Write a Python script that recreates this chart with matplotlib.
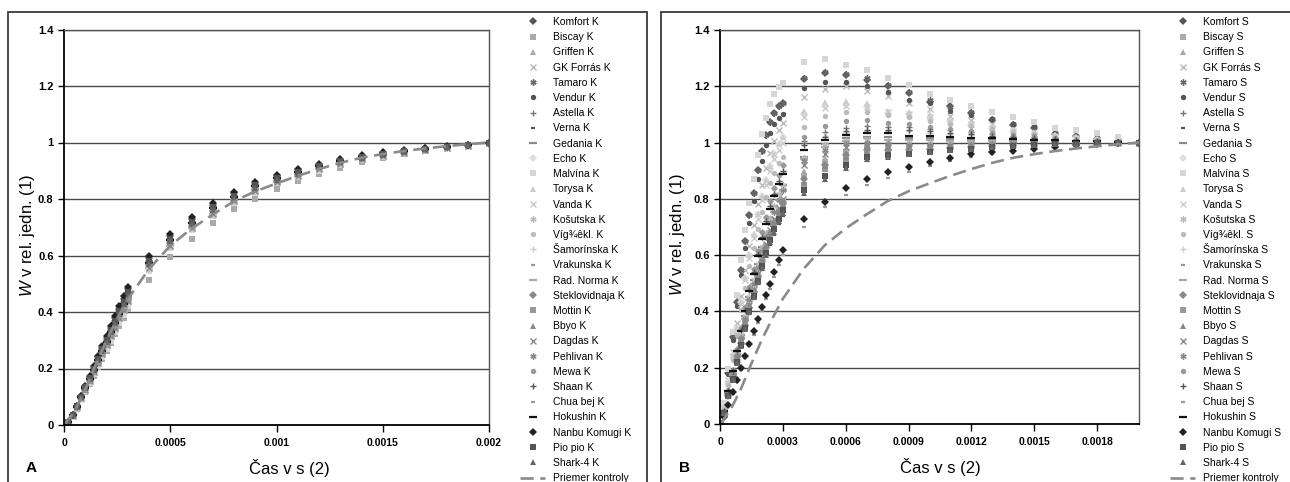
import numpy as np
import matplotlib.pyplot as plt
from matplotlib.patches import Rectangle

plt.rcParams['font.family'] = ['Liberation Sans', 'DejaVu Sans']
plt.rcParams['mathtext.fontset'] = 'custom'
plt.rcParams['mathtext.it'] = 'Liberation Sans:italic'
plt.rcParams['mathtext.rm'] = 'Liberation Sans'

VARIETIES = ["Komfort", "Biscay", "Griffen", "GK Forrás", "Tamaro", "Vendur",
             "Astella", "Verna", "Gedania", "Echo", "Malvína", "Torysa", "Vanda",
             "Košutska", "Víg¾êkl.", "Šamorínska", "Vrakunska", "Rad. Norma",
             "Steklovidnaja", "Mottin", "Bbyo", "Dagdas", "Pehlivan", "Mewa",
             "Shaan", "Chua bej", "Hokushin", "Nanbu Komugi", "Pio pio", "Shark-4"]

# time in units of 1e-5 s: dense up to 0.0003 s, then every 0.0001 s
T_DENSE = [0, 2, 4, 6, 8, 10, 12, 14, 16, 18, 20, 22, 24, 26, 28, 30]
T_TAIL = [40, 50, 60, 70, 80, 90, 100, 110, 120, 130, 140, 150, 160, 170, 180, 190, 200]

# control average (W in 1/1000)
CONTROL_T = [0, 5, 10, 15, 20, 25, 30, 40, 50, 60, 70, 80, 90, 100,
             110, 120, 130, 140, 150, 160, 170, 180, 190, 200]
CONTROL_W = [0, 50, 125, 215, 300, 375, 445, 552, 635, 695, 745, 792, 827, 855,
             882, 906, 928, 946, 959, 970, 979, 987, 994, 1000]

# ---- A (K) : rise part, W in 1/1000
A490 = [0, 11, 37, 69, 104, 139, 173, 209, 244, 279, 314, 349, 385, 420, 455, 490]
A480 = [0, 11, 36, 68, 102, 136, 170, 204, 239, 274, 308, 342, 377, 411, 445, 480]
A470 = [0, 10, 36, 66, 100, 133, 166, 200, 234, 268, 301, 335, 369, 403, 436, 470]
A460 = [0, 10, 35, 65, 98, 130, 163, 196, 229, 262, 295, 328, 361, 394, 427, 460]
A450 = [0, 10, 34, 63, 96, 127, 159, 192, 224, 257, 288, 321, 353, 386, 418, 450]
A440 = [0, 10, 33, 62, 94, 125, 156, 187, 219, 251, 282, 314, 345, 377, 408, 440]
A430 = [0, 9, 33, 61, 92, 122, 152, 183, 214, 245, 276, 307, 338, 369, 399, 430]
A420 = [0, 9, 32, 59, 89, 119, 149, 179, 209, 239, 269, 299, 330, 360, 390, 420]
A410 = [0, 9, 31, 58, 87, 116, 145, 175, 204, 234, 263, 292, 322, 351, 380, 410]

# ---- A (K) : tail part 0.0004 .. 0.002 s
A_T = [600, 675, 735, 785, 825, 860, 885, 905, 925, 940, 955, 965, 972, 980, 986, 992, 1000]
A_T2 = [590, 668, 728, 778, 820, 854, 880, 902, 922, 938, 952, 963, 971, 979, 985, 991, 1000]
A_U = [580, 660, 720, 770, 812, 850, 876, 897, 918, 935, 950, 960, 970, 978, 985, 991, 1000]
A_U2 = [575, 655, 715, 767, 808, 846, 873, 894, 916, 933, 948, 959, 969, 977, 984, 990, 1000]
A_M = [570, 650, 710, 760, 802, 840, 868, 890, 912, 930, 945, 957, 967, 976, 983, 990, 1000]
A_M2 = [565, 645, 705, 756, 798, 836, 865, 888, 910, 928, 943, 956, 966, 975, 983, 990, 1000]
A_L = [555, 635, 697, 748, 792, 830, 860, 883, 906, 925, 940, 953, 964, 974, 982, 989, 1000]
A_L2 = [545, 625, 690, 740, 785, 823, 855, 878, 900, 920, 937, 950, 962, 973, 981, 989, 1000]
A_B = [515, 595, 660, 715, 765, 800, 835, 865, 890, 910, 930, 945, 958, 970, 980, 988, 1000]

A_RISE = [A480, A410, A450, A440, A470, A470, A450, A460, A440, A430,
          A420, A440, A450, A440, A450, A430, A460, A450, A470, A440,
          A450, A440, A460, A450, A470, A450, A460, A490, A470, A460]
A_TAILS = [A_T2, A_B, A_M, A_L, A_U, A_U2, A_M2, A_M, A_L, A_L,
           A_L2, A_M2, A_M, A_L, A_M2, A_L, A_M, A_M2, A_U, A_M2,
           A_M, A_L, A_U2, A_M, A_U, A_M2, A_U2, A_T, A_U, A_M]

# ---- B (S) : rise part
B1210 = [0, 73, 194, 327, 460, 581, 690, 787, 871, 956, 1029, 1089, 1137, 1174, 1198, 1210]
B1140 = [0, 68, 182, 308, 433, 547, 650, 741, 821, 901, 969, 1026, 1072, 1106, 1129, 1140]
B1100 = [0, 66, 176, 297, 418, 528, 627, 715, 792, 869, 935, 990, 1034, 1067, 1089, 1100]
B1070 = [0, 59, 155, 257, 358, 455, 546, 631, 706, 781, 851, 910, 963, 1006, 1043, 1070]
B1020 = [0, 56, 148, 245, 342, 434, 520, 602, 673, 745, 811, 867, 918, 959, 995, 1020]
B1000 = [0, 55, 145, 240, 335, 425, 510, 590, 660, 730, 795, 850, 900, 940, 975, 1000]
B950 = [0, 52, 138, 228, 318, 404, 485, 561, 627, 694, 755, 808, 855, 893, 926, 950]
B920 = [0, 46, 120, 193, 267, 340, 414, 488, 552, 616, 681, 736, 791, 837, 883, 920]
B900 = [0, 45, 117, 189, 261, 333, 405, 477, 540, 603, 666, 720, 774, 819, 864, 900]
B890 = [0, 45, 116, 187, 258, 329, 401, 472, 534, 596, 659, 712, 765, 810, 854, 890]
B850 = [0, 43, 111, 179, 247, 315, 383, 451, 510, 570, 629, 680, 731, 774, 816, 850]
B830 = [0, 42, 108, 174, 241, 307, 374, 440, 498, 556, 614, 664, 714, 755, 797, 830]
B800 = [0, 40, 104, 168, 232, 296, 360, 424, 480, 536, 592, 640, 688, 728, 768, 800]
B790 = [0, 40, 103, 166, 229, 292, 356, 419, 474, 529, 585, 632, 679, 719, 758, 790]
B780 = [0, 39, 101, 164, 226, 289, 351, 413, 468, 523, 577, 624, 671, 710, 749, 780]
B770 = [0, 39, 100, 162, 223, 285, 347, 408, 462, 516, 570, 616, 662, 701, 739, 770]
B760 = [0, 38, 99, 160, 220, 281, 342, 403, 456, 509, 562, 608, 654, 692, 730, 760]
B750 = [0, 38, 98, 158, 218, 278, 338, 398, 450, 503, 555, 600, 645, 683, 720, 750]
B740 = [0, 37, 96, 155, 215, 274, 333, 392, 444, 496, 548, 592, 636, 673, 710, 740]
B620 = [0, 25, 68, 112, 155, 198, 242, 285, 329, 372, 415, 459, 496, 539, 583, 620]
B600 = [0, 24, 66, 108, 150, 192, 234, 276, 318, 360, 402, 444, 480, 522, 564, 600]

B_RISE = [B1140, B790, B790, B1070, B1140, B1100, B920, B740, B850, B1020,
          B1210, B1020, B1000, B850, B950, B900, B770, B830, B780, B760,
          B780, B800, B830, B920, B900, B600, B890, B620, B760, B750]

# ---- B (S) : tail part 0.0004 .. 0.002 s
B_TAILS = [
    [1225, 1248, 1240, 1222, 1200, 1175, 1145, 1131, 1105, 1080, 1062, 1050, 1032, 1022, 1013, 1006, 1000],
    [880, 930, 965, 980, 985, 980, 982, 985, 988, 990, 992, 994, 996, 997, 998, 999, 1000],
    [900, 945, 975, 990, 990, 985, 985, 986, 988, 990, 992, 994, 996, 997, 998, 999, 1000],
    [1161, 1190, 1200, 1185, 1165, 1140, 1120, 1095, 1080, 1065, 1050, 1040, 1028, 1018, 1010, 1005, 1000],
    [1229, 1252, 1244, 1230, 1206, 1180, 1151, 1125, 1108, 1084, 1066, 1055, 1035, 1025, 1015, 1008, 1000],
    [1193, 1217, 1216, 1200, 1178, 1151, 1139, 1111, 1099, 1084, 1066, 1060, 1031, 1020, 1012, 1006, 1000],
    [1007, 1037, 1050, 1058, 1054, 1057, 1048, 1043, 1037, 1030, 1025, 1020, 1015, 1010, 1006, 1003, 1000],
    [815, 865, 905, 935, 948, 955, 962, 970, 976, 982, 987, 991, 994, 996, 998, 999, 1000],
    [950, 995, 1015, 1020, 1020, 1018, 1015, 1012, 1010, 1008, 1006, 1005, 1004, 1003, 1002, 1001, 1000],
    [1100, 1130, 1135, 1125, 1105, 1100, 1088, 1075, 1062, 1050, 1040, 1032, 1024, 1016, 1009, 1004, 1000],
    [1288, 1297, 1277, 1259, 1229, 1205, 1173, 1151, 1131, 1108, 1092, 1072, 1052, 1043, 1033, 1019, 1000],
    [1113, 1145, 1149, 1140, 1113, 1110, 1100, 1080, 1070, 1055, 1045, 1035, 1025, 1016, 1010, 1005, 1000],
    [1090, 1122, 1130, 1125, 1110, 1100, 1090, 1075, 1065, 1050, 1040, 1030, 1022, 1015, 1008, 1004, 1000],
    [945, 990, 1005, 1010, 1005, 1000, 1000, 998, 998, 998, 999, 999, 999, 1000, 1000, 1000, 1000],
    [1054, 1093, 1107, 1107, 1099, 1092, 1076, 1066, 1060, 1048, 1037, 1031, 1020, 1013, 1008, 1004, 1000],
    [995, 1025, 1035, 1040, 1040, 1040, 1035, 1030, 1028, 1022, 1018, 1014, 1010, 1007, 1004, 1002, 1000],
    [845, 900, 935, 955, 960, 965, 970, 976, 981, 985, 989, 992, 995, 997, 998, 999, 1000],
    [940, 985, 1005, 1015, 1010, 1010, 1008, 1006, 1005, 1004, 1003, 1002, 1002, 1001, 1001, 1000, 1000],
    [870, 920, 955, 975, 975, 975, 978, 982, 985, 988, 991, 993, 995, 997, 998, 999, 1000],
    [850, 905, 940, 960, 965, 968, 972, 978, 982, 986, 990, 992, 995, 997, 998, 999, 1000],
    [860, 915, 950, 965, 970, 970, 975, 980, 984, 987, 990, 993, 995, 997, 998, 999, 1000],
    [920, 960, 985, 990, 985, 985, 985, 987, 990, 992, 994, 995, 996, 997, 998, 999, 1000],
    [935, 975, 995, 1000, 995, 990, 990, 990, 992, 994, 995, 996, 997, 998, 999, 1000, 1000],
    [1020, 1060, 1075, 1080, 1070, 1065, 1055, 1048, 1042, 1035, 1028, 1022, 1015, 1010, 1006, 1003, 1000],
    [990, 1020, 1040, 1045, 1045, 1045, 1040, 1035, 1030, 1025, 1020, 1015, 1012, 1008, 1005, 1002, 1000],
    [700, 770, 815, 850, 875, 895, 915, 935, 950, 960, 968, 976, 983, 989, 994, 998, 1000],
    [972, 1010, 1027, 1034, 1033, 1025, 1025, 1020, 1018, 1015, 1012, 1010, 1008, 1006, 1004, 1002, 1000],
    [727, 788, 838, 871, 895, 912, 930, 946, 960, 965, 970, 978, 985, 990, 995, 998, 1000],
    [830, 880, 920, 950, 955, 960, 966, 972, 978, 983, 988, 991, 994, 996, 998, 999, 1000],
    [820, 870, 910, 940, 950, 958, 965, 972, 978, 983, 988, 991, 994, 996, 998, 999, 1000],
]

Y_TICKS = [0, 0.2, 0.4, 0.6, 0.8, 1.0, 1.2, 1.4]
Y_LABELS = ["0", "0.2", "0.4", "0.6", "0.8", "1", "1.2", "1.4"]
A_XTICKS = [0, 0.0005, 0.001, 0.0015, 0.002]
A_XLABELS = ["0", "0.0005", "0.001", "0.0015", "0.002"]
B_XTICKS = [0, 0.0003, 0.0006, 0.0009, 0.0012, 0.0015, 0.0018]
B_XLABELS = ["0", "0.0003", "0.0006", "0.0009", "0.0012", "0.0015", "0.0018"]

# Excel-like marker cycle, grayscale
STAR = (6, 2, 0)
MARKERS = ['D', 's', '^', 'x', STAR, 'o', '+', '_', '_',
           'D', 's', '^', 'x', STAR, 'o', '+', '_', '_',
           'D', 's', '^', 'x', STAR, 'o', '+', '_', '_',
           'D', 's', '^']
COLORS = ['#555555', '#aaaaaa', '#a8a8a8', '#bbbbbb', '#666666', '#555555',
          '#777777', '#555555', '#8a8a8a', '#dddddd', '#d6d6d6', '#cccccc',
          '#cccccc', '#bbbbbb', '#bbbbbb', '#cccccc', '#999999', '#aaaaaa',
          '#888888', '#999999', '#888888', '#888888', '#888888', '#999999',
          '#555555', '#999999', '#111111', '#222222', '#555555', '#666666']
LONG_DASH = {8, 17, 26}


def marker_style(i):
    m = MARKERS[i]
    if m == '_':
        return dict(ms=5.5 if i in LONG_DASH else 3.4, mew=1.6)
    if m in ('x', '+') or isinstance(m, tuple):
        return dict(ms=4.4, mew=1.0)
    if m == '^':
        return dict(ms=4.5, mew=0)
    return dict(ms=3.9, mew=0)


def draw_panel(ax, rise, tails, suffix):
    t = np.array(T_DENSE + T_TAIL) * 1e-5
    handles = []
    for i, name in enumerate(VARIETIES):
        w = np.array(rise[i] + tails[i]) / 1000
        h, = ax.plot(t, w, ls='none', marker=MARKERS[i], color=COLORS[i],
                     label=f"{name} {suffix}", **marker_style(i))
        handles.append(h)
    h, = ax.plot(np.array(CONTROL_T) * 1e-5, np.array(CONTROL_W) / 1000,
                 color='#8a8a8a', lw=1.9, dashes=(5, 2.5), label="Priemer kontroly")
    handles.append(h)
    return handles


def setup_axes(ax, xticks, xlabels):
    ax.set_xlim(0, 0.002)
    ax.set_ylim(0, 1.4)
    ax.set_xticks(xticks, xlabels, fontsize=7.5, fontweight='bold')
    ax.set_yticks(Y_TICKS, Y_LABELS, fontsize=8, fontweight='bold')
    ax.tick_params(axis='x', direction='out', length=5, width=1, pad=4.5)
    ax.tick_params(axis='y', direction='out', length=4, width=1, pad=3.5)
    ax.yaxis.grid(True, color='#4a4a4a', lw=1.0)
    ax.set_axisbelow(True)
    for s in ('left', 'bottom'):
        ax.spines[s].set_color('black')
        ax.spines[s].set_linewidth(1.3)
    for s in ('top', 'right'):
        ax.spines[s].set_color('#555555')
        ax.spines[s].set_linewidth(1.0)
    ax.set_ylabel(r"$W$ v rel. jedn. (1)", fontsize=12)
    ax.set_xlabel("Čas v s (2)", fontsize=12)


W, H = 1290, 482
fig = plt.figure(figsize=(12.9, 4.82), dpi=100)

ax_a = fig.add_axes([64 / W, 57 / H, 425 / W, 395.5 / H])
ax_b = fig.add_axes([720 / W, 58 / H, 419 / W, 394 / H])

handles_a = draw_panel(ax_a, A_RISE, A_TAILS, "K")
handles_b = draw_panel(ax_b, B_RISE, B_TAILS, "S")
setup_axes(ax_a, A_XTICKS, A_XLABELS)
setup_axes(ax_b, B_XTICKS, B_XLABELS)
ax_a.yaxis.set_label_coords(-0.064, 0.48)
ax_b.yaxis.set_label_coords(-0.079, 0.48)
ax_a.xaxis.set_label_coords(0.53, -0.086)
ax_b.xaxis.set_label_coords(0.527, -0.086)

for handles, x0 in ((handles_a, 520), (handles_b, 1170)):
    fig.legend(handles=handles, loc='upper left', bbox_to_anchor=(x0 / W, 1 - 17 / H),
               frameon=False, fontsize=7.5, handlelength=2.4, handletextpad=0.8,
               labelspacing=0.50, borderpad=0, borderaxespad=0)

# panel frames
fig.patches.append(Rectangle((8 / W, -0.05), (647 - 8) / W, 1.05 - 12 / H,
                             transform=fig.transFigure, fill=False, ec='#3a3a3a', lw=1.3))
fig.patches.append(Rectangle((661 / W, -0.05), 0.5, 1.05 - 12 / H,
                             transform=fig.transFigure, fill=False, ec='#3a3a3a', lw=1.3))

fig.text(31 / W, 1 - 468 / H, "A", fontsize=11, fontweight='bold', ha='center', va='center')
fig.text(684 / W, 1 - 468 / H, "B", fontsize=11, fontweight='bold', ha='center', va='center')

fig.savefig("out.png", dpi=100)
